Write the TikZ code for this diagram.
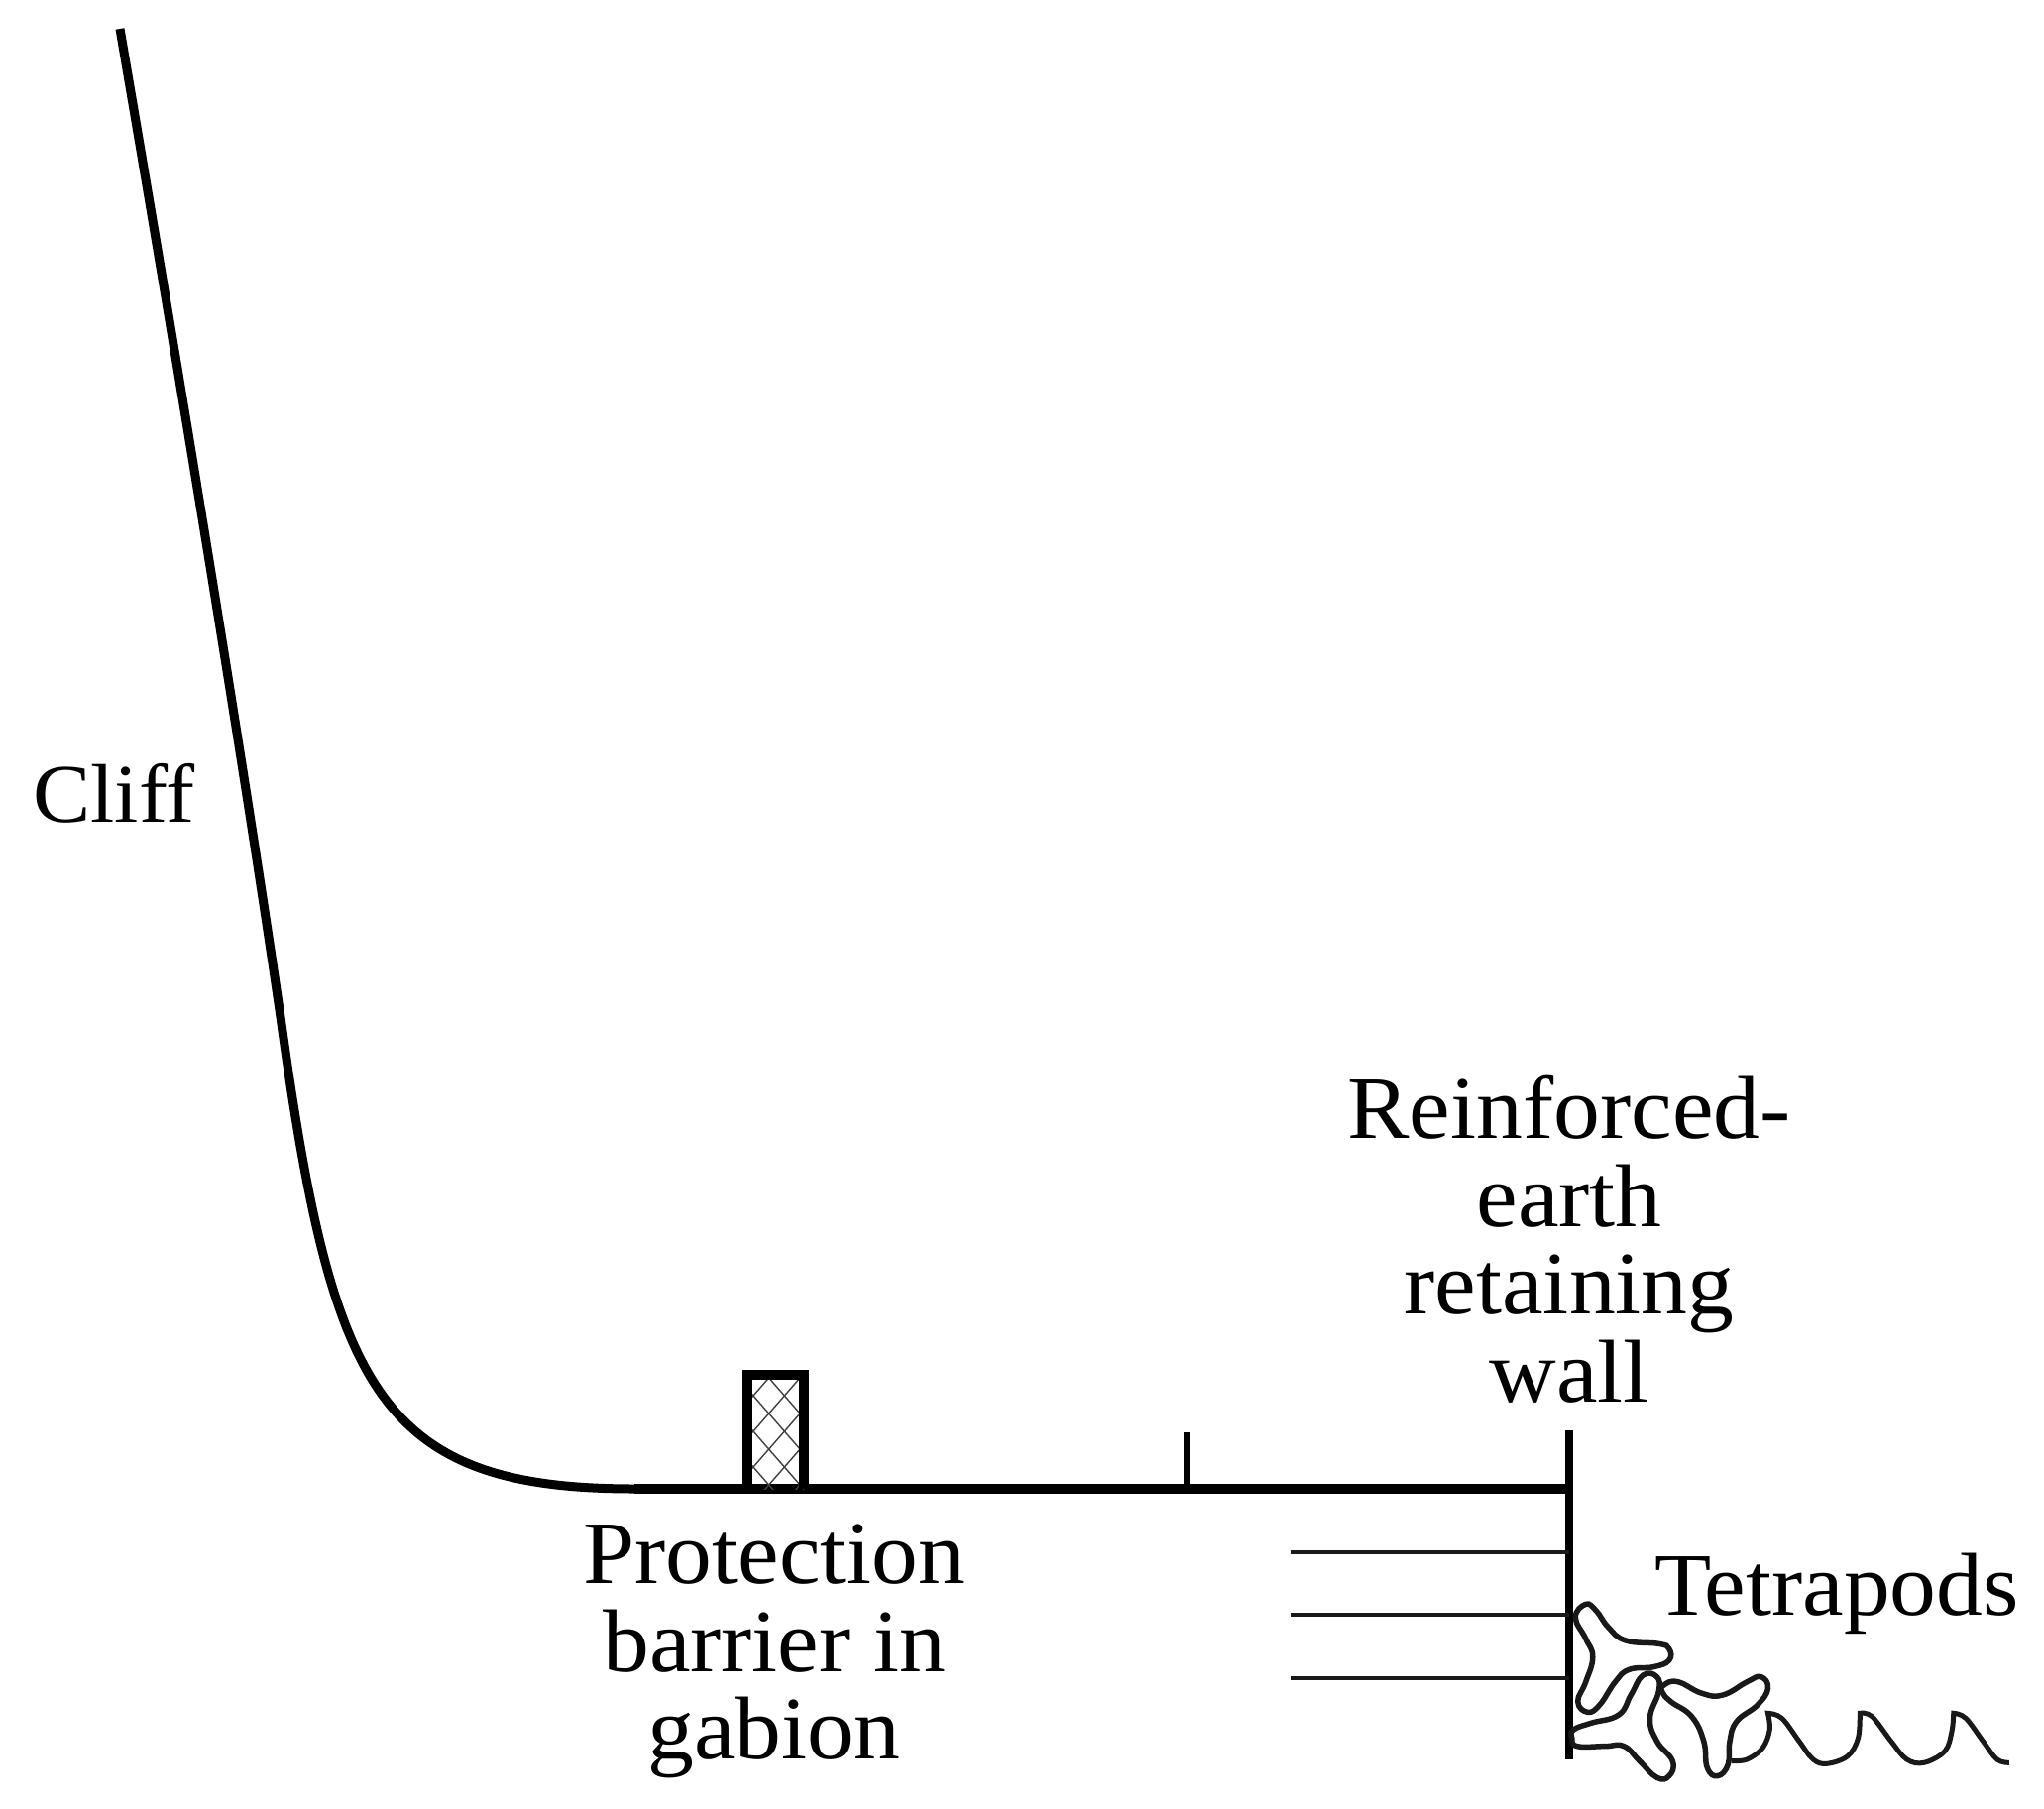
\documentclass[tikz,border=0pt]{standalone}
\usepackage{fontspec}
\setmainfont[FakeStretch=1.04]{Liberation Serif}
\tikzset{
  x=1pt,y=-1pt,
  groundline/.style={line width=10pt,line join=miter},
  cliffline/.style={line width=9pt,line join=round},
  thinhatch/.style={line width=1.4pt,black!75},
  strip/.style={line width=4.5pt,black!90},
  tetra/.style={line width=5.5pt,black!90,smooth cycle,tension=0.75},
  wave/.style={line width=5pt,black!90,line join=miter},
  lbl/.style={inner sep=0pt,align=center,font=\fontsize{90}{88.5}\selectfont}
}
\begin{document}
\begin{tikzpicture}
\useasboundingbox (0,0) rectangle (2062,1825);
\draw[cliffline] (121,29) .. controls (190,430) and (250,800) .. (283,1026) .. controls (335,1400) and (380,1502) .. (640,1502);
\draw[groundline] (640,1502) -- (1583,1502);
% gabion
\begin{scope}
\clip (754,1387) rectangle (811,1502);
\foreach \k in {-4,...,6}{
  \draw[thinhatch] (760+\k*31.4,1372) -- ++(120,137.6);
  \draw[thinhatch] (760+\k*31.4,1372) -- ++(-120,137.6);
}
\end{scope}
\draw[groundline] (754,1502) -- (754,1387) -- (811,1387) -- (811,1502);
% fence
\draw[line width=5.5pt] (1197,1445) -- (1197,1502);
% wall
\draw[line width=8pt] (1583,1443) -- (1583,1775);
\draw[strip] (1302,1566) -- (1583,1566);
\draw[strip] (1302,1629) -- (1583,1629);
\draw[strip] (1302,1693) -- (1583,1693);
% tetrapods
\begin{scope}[shift={(1500,1500)},x=0.35pt,y=-0.3333pt]
\draw[tetra] plot coordinates {(285,355) (255,395) (285,460) (305,515) (285,590) (262,650) (290,682) (325,660) (370,590) (410,553) (480,545) (525,525) (525,490) (495,475) (400,465) (350,425) (315,375)};
\draw[tetra] plot coordinates {(250,735) (300,715) (380,690) (415,630) (450,570) (490,575) (495,620) (470,700) (490,770) (535,830) (525,875) (490,880) (440,830) (395,785) (340,785) (260,785) (245,760)};
\draw[tetra] plot coordinates {(510,600) (550,590) (620,625) (680,630) (750,590) (790,575) (810,610) (780,660) (720,710) (700,770) (695,840) (665,875) (635,850) (625,770) (590,695) (530,650) (505,620)};
\draw[wave] plot[smooth,tension=0.6] coordinates {(705,830) (750,825) (795,790) (815,735) (810,685)}
  -- plot[smooth,tension=0.6] coordinates {(810,685) (850,700) (900,770) (940,825) (980,838) (1040,815) (1070,760) (1075,685)}
  -- plot[smooth,tension=0.6] coordinates {(1075,685) (1110,695) (1165,770) (1210,825) (1260,835) (1320,800) (1340,740) (1345,685)}
  -- plot[smooth,tension=0.6] coordinates {(1345,685) (1380,700) (1430,770) (1470,825) (1505,835)};
\end{scope}
% labels
\node[lbl,anchor=base west,font=\fontsize{84}{88}\selectfont] (cliff) at (33,829) {Cliff};
\node[lbl,anchor=base] (tetrapods) at (1853,1629) {Tetrapods};
\node[lbl,anchor=north] (wall) at (1583,1085) {Reinforced-\\earth\\retaining\\wall};
\node[lbl,anchor=north] (barrier) at (781,1538) {Protection\\barrier in\\gabion};
\end{tikzpicture}
\end{document}
